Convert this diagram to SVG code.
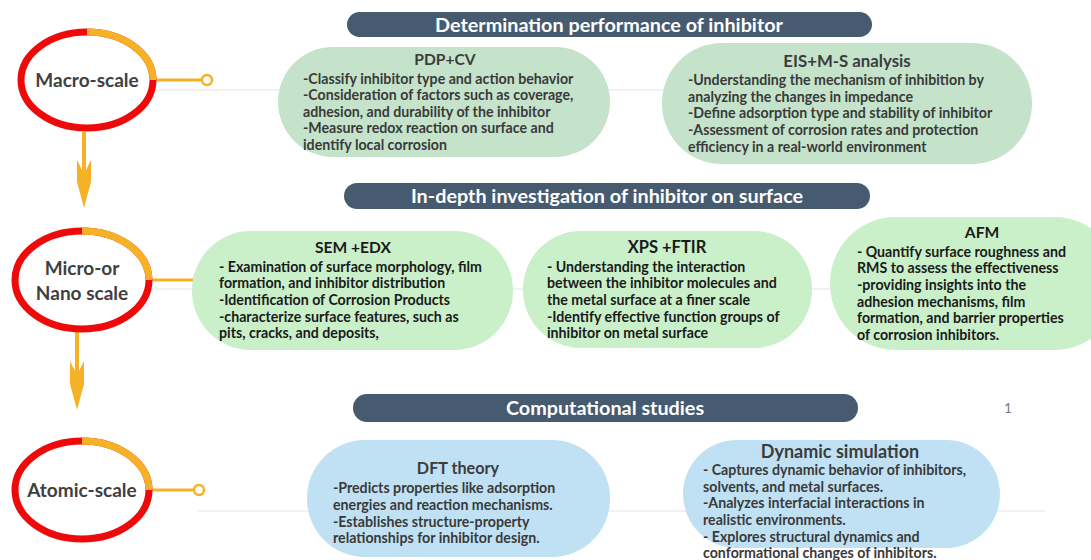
<svg xmlns="http://www.w3.org/2000/svg" width="1091" height="560" viewBox="0 0 1091 560">
<style>
.bg{fill:#ffffff}
.ring{fill:#ffffff;stroke:#ee0a0a;stroke-width:7}
.arc{fill:none;stroke:#f6b226;stroke-width:7}
.scale{font-family:Lato,"Liberation Sans",sans-serif;font-weight:700;font-size:19px;fill:#404040;text-anchor:middle}
.bar{fill:#465b70}
.bartxt{font-family:Lato,"Liberation Sans",sans-serif;font-weight:700;font-size:19.8px;fill:#ffffff;text-anchor:middle}
.g1{fill:#c4e3ca}
.g2{fill:#caf0ca}
.b1{fill:#bfe1f3}
.ttl{font-family:Lato,"Liberation Sans",sans-serif;font-weight:700;font-size:15.6px;fill:#3c3c3c;text-anchor:middle}
.body{font-family:Lato,"Liberation Sans",sans-serif;font-weight:700;font-size:14.2px;fill:#3a3a3a}
.body2{font-family:Lato,"Liberation Sans",sans-serif;font-weight:700;font-size:14.2px;fill:#1a1a1a}
.guide{stroke:#e6e6e6;stroke-width:1.2;fill:none}
.conn{stroke:#f6b226;stroke-width:3;fill:none}
.dot{fill:#ffffff;stroke:#f6b226;stroke-width:2.5}
.arrow{fill:#f6b226}
</style>
<rect class="bg" x="0" y="0" width="1091" height="560"/>

<g id="guides">
<line class="guide" x1="156" y1="90" x2="1030" y2="90"/>
<line class="guide" x1="152" y1="289" x2="1060" y2="289"/>
<line class="guide" x1="198" y1="511" x2="1045" y2="511"/>
</g>

<g id="connectors">
<line class="conn" x1="154" y1="80" x2="202" y2="80"/>
<circle class="dot" cx="207" cy="80" r="5"/>
<line class="conn" x1="151" y1="280" x2="194" y2="280"/>
<circle class="dot" cx="199" cy="280" r="5"/>
<line class="conn" x1="151" y1="490" x2="194" y2="490"/>
<circle class="dot" cx="199" cy="490" r="5"/>
<rect class="arrow" x="82" y="132" width="4" height="40"/>
<polygon class="arrow" points="77,160 82,170 86,170 91,160 91,182 84,208 77,182"/>
<rect class="arrow" x="75" y="331" width="4" height="40"/>
<polygon class="arrow" points="70,361 75,371 79,371 84,361 84,384 77,410 70,384"/>
</g>

<g id="macro">
<ellipse class="ring" cx="87" cy="80" rx="66" ry="48"/>
<path class="arc" d="M87,32 A66,48 0 0 1 153,80"/>
<text class="scale" x="87" y="87">Macro-scale</text>
</g>

<g id="micro">
<ellipse class="ring" cx="82" cy="280" rx="67" ry="49"/>
<path class="arc" d="M82,231 A67,49 0 0 1 149,280"/>
<text class="scale" x="82" y="275">Micro-or</text>
<text class="scale" x="82" y="300">Nano scale</text>
</g>

<g id="atomic">
<ellipse class="ring" cx="82" cy="490" rx="67" ry="49"/>
<path class="arc" d="M82,441 A67,49 0 0 1 149,490"/>
<text class="scale" x="82" y="497">Atomic-scale</text>
</g>

<g id="bar-determination">
<rect class="bar" x="347" y="12" width="525" height="25" rx="12.5"/>
<text class="bartxt" x="609" y="31.5">Determination performance of inhibitor</text>
</g>

<g id="bar-indepth">
<rect class="bar" x="344" y="183" width="526" height="26" rx="13"/>
<text class="bartxt" x="607" y="203">In-depth investigation of inhibitor on surface</text>
</g>

<g id="bar-computational">
<rect class="bar" x="353" y="394" width="505" height="28" rx="14"/>
<text class="bartxt" x="605" y="415">Computational studies</text>
</g>

<g id="pdp-cv">
<rect class="g1" x="278" y="47" width="332" height="110" rx="55"/>
<text class="ttl" x="445" y="65">PDP+CV</text>
<text class="body" x="303" y="84">-Classify inhibitor type and action behavior</text>
<text class="body" x="303" y="100">-Consideration of factors such as coverage,</text>
<text class="body" x="303" y="117">adhesion, and durability of the inhibitor</text>
<text class="body" x="303" y="133">-Measure redox reaction on surface  and</text>
<text class="body" x="303" y="150">identify local corrosion</text>
</g>

<g id="eis-ms">
<rect class="g1" x="662" y="43" width="370" height="121" rx="60"/>
<text class="ttl" x="847" y="67" style="font-size:16.8px">EIS+M-S analysis</text>
<text class="body" x="688" y="85">-Understanding the mechanism of inhibition by</text>
<text class="body" x="688" y="102">analyzing the changes in impedance</text>
<text class="body" x="688" y="118">-Define adsorption type and stability of inhibitor</text>
<text class="body" x="688" y="135">-Assessment of corrosion rates and protection</text>
<text class="body" x="688" y="152">efficiency in a real-world environment</text>
</g>

<g id="sem-edx">
<rect class="g2" x="192" y="231" width="321" height="119" rx="59"/>
<text class="ttl" x="353" y="253" style="fill:#1a1a1a">SEM +EDX</text>
<text class="body2" x="219" y="272">- Examination of surface morphology, film</text>
<text class="body2" x="219" y="288">formation, and inhibitor distribution</text>
<text class="body2" x="219" y="305">-Identification of Corrosion Products</text>
<text class="body2" x="219" y="322">-characterize surface features, such as</text>
<text class="body2" x="219" y="338">pits, cracks, and deposits,</text>
</g>

<g id="xps-ftir">
<rect class="g2" x="523" y="231" width="289" height="117" rx="58"/>
<text class="ttl" x="667" y="253" style="fill:#1a1a1a;font-size:16.5px">XPS +FTIR</text>
<text class="body2" x="547" y="272">- Understanding the interaction</text>
<text class="body2" x="547" y="288">between the inhibitor molecules and</text>
<text class="body2" x="547" y="305">the metal surface at a finer scale</text>
<text class="body2" x="547" y="322">-Identify effective function groups of</text>
<text class="body2" x="547" y="338">inhibitor on  metal surface</text>
</g>

<g id="afm">
<rect class="g2" x="830" y="217" width="290" height="133" rx="66"/>
<text class="ttl" x="982" y="238" style="fill:#1a1a1a">AFM</text>
<text class="body2" x="857" y="257">- Quantify surface roughness and</text>
<text class="body2" x="857" y="273">RMS to assess the effectiveness</text>
<text class="body2" x="857" y="290">-providing insights into the</text>
<text class="body2" x="857" y="307">adhesion mechanisms, film</text>
<text class="body2" x="857" y="323">formation, and barrier properties</text>
<text class="body2" x="857" y="340">of corrosion inhibitors.</text>
</g>

<g id="dft">
<rect class="b1" x="307" y="440" width="303" height="117" rx="58"/>
<text class="ttl" x="458" y="474" style="font-size:16.2px">DFT theory</text>
<text class="body" x="333" y="493">-Predicts properties like adsorption</text>
<text class="body" x="333" y="510">energies and reaction mechanisms.</text>
<text class="body" x="333" y="527">-Establishes structure-property</text>
<text class="body" x="333" y="543">relationships for inhibitor design.</text>
</g>

<g id="dynamic">
<rect class="b1" x="683" y="440" width="317" height="108" rx="54"/>
<text class="ttl" x="840" y="458" style="font-size:18px">Dynamic simulation</text>
<text class="body" x="703" y="475">- Captures dynamic behavior of inhibitors,</text>
<text class="body" x="703" y="492">solvents, and metal surfaces.</text>
<text class="body" x="703" y="508"> -Analyzes interfacial interactions in</text>
<text class="body" x="703" y="525">realistic environments.</text>
<text class="body" x="703" y="542">- Explores structural dynamics and</text>
<text class="body" x="703" y="558">conformational changes of inhibitors.</text>
</g>

<g id="page-number">
<text x="1008" y="413" style="font-family:Lato,'Liberation Sans',sans-serif;font-size:13px;fill:#777777;text-anchor:middle">1</text>
</g>
</svg>
